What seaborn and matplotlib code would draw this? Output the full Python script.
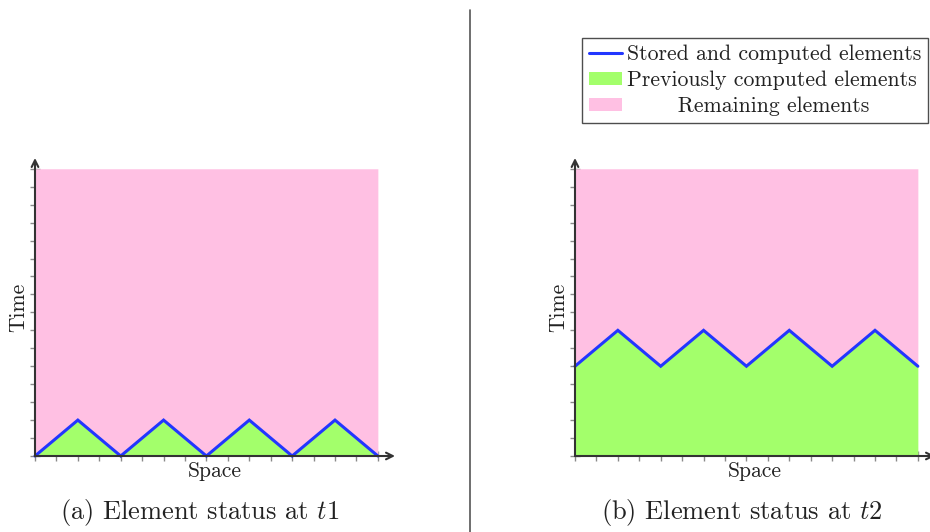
import matplotlib
matplotlib.use("Agg")
import matplotlib.pyplot as plt
import seaborn as sns
import pandas as pd
from matplotlib.patches import Patch
from matplotlib.lines import Line2D

# Data (space units along x, time units along y)
space = [0, 2, 4, 6, 8, 10, 12, 14, 16]
time_t1 = [0, 2, 0, 2, 0, 2, 0, 2, 0]            # computed front at t1
time_t2 = [5, 7, 5, 7, 5, 7, 5, 7, 5]            # computed front at t2
top = [16] * len(space)                          # end of the domain in time
ticks = list(range(0, 17))
captions = ["(a) Element status at $t1$", "(b) Element status at $t2$"]
legend_labels = ["Stored and computed elements",
                 "Previously computed elements",
                 "       Remaining elements"]

blue = "#2236ff"
green = "#a3ff6b"
pink = "#ffc0e3"

sns.set_theme(style="white")
plt.rcParams["font.family"] = ["cmr10", "DejaVu Serif"]
plt.rcParams["mathtext.fontset"] = "cm"
plt.rcParams["axes.formatter.use_mathtext"] = True

fig = plt.figure(figsize=(9.3, 5.32), dpi=100)
W, H = 930, 532

def make_axes(x0):
    # axes box spans the origin up to the arrow tips
    return fig.add_axes([x0 / W, 1 - 456 / H, 360 / W, 298 / H])

for x0, front, cap, cx in [(35, time_t1, captions[0], 200),
                           (575, time_t2, captions[1], 742)]:
    ax = make_axes(x0)
    df = pd.DataFrame({"Space": space, "Time": front, "Top": top})
    ax.fill_between(df["Space"], df["Time"], df["Top"], color=pink, lw=0)
    ax.fill_between(df["Space"], 0, df["Time"], color=green, lw=0)
    sns.lineplot(data=df, x="Space", y="Time", ax=ax, color=blue, lw=2.2,
                 solid_joinstyle="miter", clip_on=False)
    ax.set_xlim(0, 16.8)
    ax.set_ylim(0, 16.6)
    for s in ax.spines.values():
        s.set_visible(False)
    ax.set_xticks(ticks)
    ax.set_yticks(ticks)
    ax.set_xticklabels([])
    ax.set_yticklabels([])
    ax.tick_params(axis="both", which="major", direction="inout", length=7,
                   width=1, color="#8a8a8a", bottom=True, left=True)
    # axis arrows
    ax.annotate("", xy=(1, 0), xytext=(0, 0), xycoords="axes fraction",
                arrowprops=dict(arrowstyle="->", color="#333333", lw=1.5,
                                shrinkA=0, shrinkB=0))
    ax.annotate("", xy=(0, 1), xytext=(0, 0), xycoords="axes fraction",
                arrowprops=dict(arrowstyle="->", color="#333333", lw=1.5,
                                shrinkA=0, shrinkB=0))
    ax.set_xlabel("Space", fontsize=15.5, color="#222222")
    ax.set_ylabel("Time", fontsize=15.5, color="#222222")
    ax.xaxis.set_label_coords(0.5, -0.02)
    ax.yaxis.set_label_coords(-0.02, 0.5)
    ax.patch.set_alpha(0)
    fig.text(cx / W, 1 - 512 / H, cap, fontsize=19, ha="center", va="center",
             color="#222222")

# divider between the two sub-figures
fig.add_artist(Line2D([470 / W, 470 / W], [0, 1 - 10 / H], color="#555555",
                      lw=1.2))

handles = [Line2D([], [], color=blue, lw=2.2),
           Patch(facecolor=green, edgecolor="none"),
           Patch(facecolor=pink, edgecolor="none")]
leg = fig.legend(handles, legend_labels, loc="upper right",
                 bbox_to_anchor=(928 / W, 1 - 38 / H), fontsize=15.7,
                 frameon=True, fancybox=False, handlelength=1.5,
                 handleheight=0.55, handletextpad=0.25, labelspacing=0.3,
                 borderpad=0.3, borderaxespad=0)
leg.get_frame().set_edgecolor("#222222")
leg.get_frame().set_linewidth(1.0)
for t in leg.get_texts():
    t.set_color("#222222")

fig.savefig("out.png", dpi=100)
